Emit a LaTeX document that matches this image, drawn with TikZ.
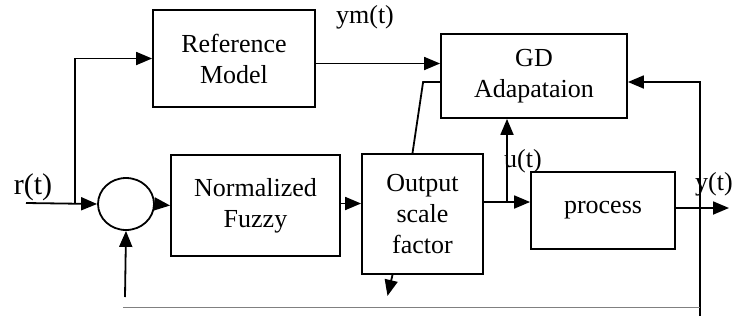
\documentclass[tikz,border=0pt]{standalone}
\usepackage{fontspec}
\setmainfont{Liberation Serif}
\usepackage{tikz}
\usetikzlibrary{arrows.meta,shapes,positioning}

\begin{document}
\begin{tikzpicture}[x=1pt,y=-1pt,
  every node/.style={font=\fontsize{26}{31}\selectfont, align=center},
  block/.style={rectangle, draw, line width=1.8pt, inner sep=0pt},
  sumnode/.style={ellipse, draw, line width=1.8pt, minimum width=56pt, minimum height=52pt},
  tnode/.style={draw=none, inner sep=0pt},
  sig/.style={line width=1.8pt, -{Triangle[length=16pt,width=13pt]}},
  wire/.style={line width=1.8pt}]

\useasboundingbox (0,0) rectangle (741,322);

  \node (refm) [block, minimum width=162pt, minimum height=97pt] at (234,58.5) {Reference\\Model};
  \node (gd) [block, minimum width=186pt, minimum height=84pt] at (534,76) {GD\\Adapataion};
  \node (sum) [sumnode] at (126,204) {};
  \node (fuzzy) [block, minimum width=169pt, minimum height=101pt] at (255.5,205.5) {Normalized\\Fuzzy};
  \node (osf) [block, minimum width=121pt, minimum height=120pt] at (422.5,214) {Output\\scale\\factor};
  \node (proc) [block, minimum width=144pt, minimum height=77pt] at (603,210.5) {process};

  \coordinate (rin) at (26,203);
  \coordinate (rbr) at (75,203);
  \coordinate (ub) at (507,202);
  \coordinate (yout) at (729,208);
  \coordinate (fbr) at (700,316);
  \coordinate (fbl) at (125,297);

  % labels
  \node (rlab) [tnode, font=\fontsize{30}{34}\selectfont] at (33,187) {r(t)};
  \node (ymlab) [tnode] at (365,17) {ym(t)};
  \node (ulab) [tnode] at (523,161) {u(t)};
  \node (ylab) [tnode] at (714,184) {y(t)};

  % forward path
  \draw [sig] (rin) -- (sum.west);
  \draw [sig] (rbr) |- (refm.west);
  \draw [sig] (sum.east) -- (fuzzy.west);
  \draw [sig] ([yshift=2pt]fuzzy.east) -- ([yshift=2pt]fuzzy.east -| osf.west);
  \draw [sig] ([yshift=12pt]osf.east) -- ([yshift=12pt]osf.east -| proc.west);
  \draw [sig] ([yshift=2.5pt]proc.east) -- (yout);
  \draw [sig] ([xshift=-30pt]osf.south) -- ++(-5,21);

  % adaptation
  \draw [sig] ([yshift=-5pt]refm.east) -- ([yshift=-5pt]refm.east -| gd.west);
  \draw [wire] ([xshift=-10pt]osf.north) -- ([xshift=-17pt,yshift=-6pt]gd.west) -- ([yshift=-6pt]gd.west);
  \draw [sig] (ub) -- (ub |- gd.south);
  \draw [sig] (fbr) |- ([yshift=-6pt]gd.east);

  % feedback
  \draw [sig] (fbl) -- (sum.south);
  \draw [gray, line width=1pt] (123,307) -- (fbr |- 0,307);

\end{tikzpicture}
\end{document}
